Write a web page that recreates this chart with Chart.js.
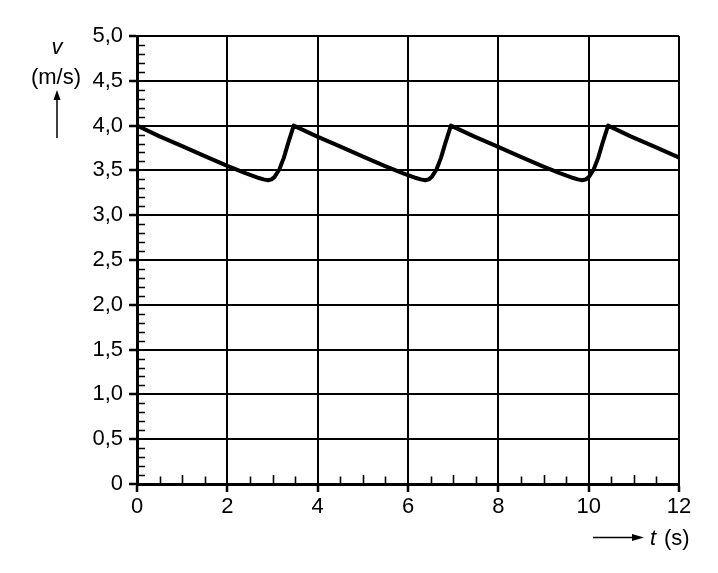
<!DOCTYPE html>
<html>
<head>
<meta charset="utf-8">
<script src="https://cdn.jsdelivr.net/npm/chart.js@4/dist/chart.umd.min.js"></script>
<style>
  html, body { margin: 0; padding: 0; background: #fff; }
  #wrap { width: 718px; height: 573px; position: relative; }
</style>
</head>
<body>
<div id="wrap"><canvas id="grafiek"></canvas></div>
<script>
// t in s, v in m/s
const tijden = [
  0, 0.5, 1.0, 1.5, 2.0, 2.4, 2.7, 2.8, 2.9, 2.98, 3.05, 3.15, 3.25, 3.35, 3.47,
  3.98, 4.48, 4.98, 5.48, 5.88, 6.18, 6.28, 6.38, 6.46, 6.53, 6.63, 6.73, 6.83, 6.95,
  7.46, 7.96, 8.46, 8.96, 9.36, 9.66, 9.76, 9.86, 9.94, 10.01, 10.11, 10.21, 10.31, 10.43,
  10.93, 11.43, 11.93, 12.0
]
const snelheden = [
  4.00, 3.88, 3.77, 3.66, 3.55, 3.47, 3.415, 3.40, 3.39, 3.40, 3.43, 3.51, 3.64, 3.81, 4.00,
  3.88, 3.77, 3.66, 3.55, 3.47, 3.415, 3.40, 3.39, 3.40, 3.43, 3.51, 3.64, 3.81, 4.00,
  3.88, 3.77, 3.66, 3.55, 3.47, 3.415, 3.40, 3.39, 3.40, 3.43, 3.51, 3.64, 3.81, 4.00,
  3.88, 3.77, 3.66, 3.64
]
const xLabels = ['0', '2', '4', '6', '8', '10', '12']
const yLabels = ['0', '0,5', '1,0', '1,5', '2,0', '2,5', '3,0', '3,5', '4,0', '4,5', '5,0']

const fam = "'Liberation Sans', Arial, sans-serif"
const font = { family: fam, size: 22 }
const isMajorY = v => Math.round(v * 10) % 5 === 0
const isMajorX = v => Math.round(v * 2) % 4 === 0

// short ticks on the inside of the axes + axis titles
const extras = {
    id: 'extras',
    afterDraw(chart) {
        const ctx = chart.ctx
        const { left, bottom } = chart.chartArea
        const x = chart.scales.x, y = chart.scales.y
        ctx.save()
        ctx.strokeStyle = '#000'
        ctx.lineWidth = 1.6
        ctx.beginPath()
        for (let i = 1; i < 50; i++) {
            if (i % 5 === 0) continue
            const py = Math.round(y.getPixelForValue(i / 10)) + 0.5
            ctx.moveTo(left, py); ctx.lineTo(left + 8, py)
        }
        for (let i = 1; i < 24; i++) {
            if (i % 4 === 0) continue
            const px = Math.round(x.getPixelForValue(i / 2)) + 0.5
            const len = i % 2 === 0 ? 9 : 7.5
            ctx.moveTo(px, bottom); ctx.lineTo(px, bottom - len)
        }
        ctx.stroke()

        ctx.fillStyle = '#000'
        ctx.textBaseline = 'alphabetic'
        ctx.textAlign = 'center'
        ctx.font = 'italic 22px ' + fam
        ctx.fillText('v', 57, 54)
        ctx.font = '22px ' + fam
        ctx.fillText('(m/s)', 56, 84)
        ctx.textAlign = 'left'
        ctx.font = 'italic 22px ' + fam
        ctx.fillText('t', 650, 545)
        ctx.font = '22px ' + fam
        ctx.fillText('(s)', 664, 545)

        // arrows
        ctx.lineWidth = 1.5
        ctx.beginPath()
        ctx.moveTo(57, 138); ctx.lineTo(57, 96)
        ctx.moveTo(593, 537.5); ctx.lineTo(638, 537.5)
        ctx.stroke()
        ctx.beginPath()
        ctx.moveTo(57, 90); ctx.lineTo(53.5, 100); ctx.lineTo(60.5, 100); ctx.closePath()
        ctx.moveTo(644, 537.5); ctx.lineTo(632, 534); ctx.lineTo(632, 541); ctx.closePath()
        ctx.fill()
        ctx.restore()
    }
}

new Chart(document.getElementById('grafiek'), {
    type: 'line',
    data: {
        datasets: [
            {
                data: tijden.map((t, i) => ({ x: t, y: snelheden[i] })),
                borderColor: '#000',
                borderWidth: 4,
                borderJoinStyle: 'round',
                borderCapStyle: 'round',
                pointRadius: 0,
                tension: 0
            }
        ]
    },
    options: {
        responsive: true,
        maintainAspectRatio: false,
        animation: false,
        layout: { padding: { top: 36, right: 39, left: 0, bottom: 0 } },
        plugins: {
            legend: { display: false },
            tooltip: { enabled: false }
        },
        scales: {
            x: {
                type: 'linear',
                min: 0,
                max: 12,
                afterFit: s => { s.height = 89 },
                border: { color: '#000', width: 3 },
                grid: {
                    color: c => isMajorX(c.tick.value) ? '#000' : 'transparent',
                    lineWidth: 2,
                    tickColor: c => isMajorX(c.tick.value) ? '#000' : 'transparent',
                    tickLength: 8,
                    tickWidth: 2.5
                },
                ticks: {
                    stepSize: 0.5,
                    autoSkip: false,
                    maxRotation: 0,
                    color: '#000',
                    font: font,
                    padding: 2,
                    callback: v => isMajorX(v) ? xLabels[Math.round(v / 2)] : ''
                }
            },
            y: {
                min: 0,
                max: 5,
                afterFit: s => { s.width = 137 },
                border: { color: '#000', width: 3 },
                grid: {
                    color: c => isMajorY(c.tick.value) ? '#000' : 'transparent',
                    lineWidth: 2,
                    tickColor: c => isMajorY(c.tick.value) ? '#000' : 'transparent',
                    tickLength: 8,
                    tickWidth: 2.5
                },
                ticks: {
                    stepSize: 0.1,
                    autoSkip: false,
                    color: '#000',
                    font: font,
                    padding: 6,
                    callback: v => isMajorY(v) ? yLabels[Math.round(v * 2)] : ''
                }
            }
        }
    },
    plugins: [extras]
})
</script>
</body>
</html>
